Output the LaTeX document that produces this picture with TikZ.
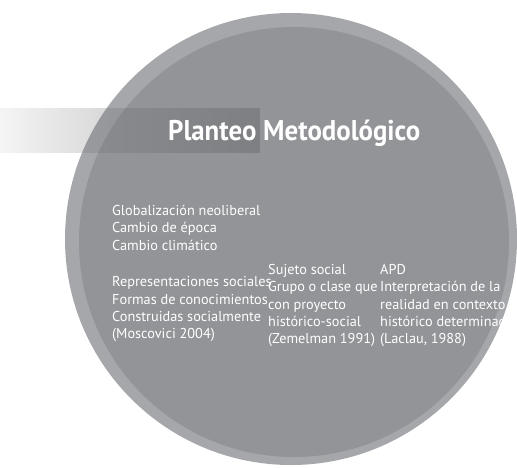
\documentclass[tikz,border=0pt]{standalone}
\usepackage{fontspec}
\setmainfont{PT Sans}
\usetikzlibrary{fadings}
\definecolor{ringgray}{HTML}{A6A7AB}
\definecolor{discgray}{HTML}{939498}
\definecolor{bandgray}{HTML}{6E6F73}
\tikzfading[name=bandfade, left color=transparent!93, right color=transparent!45]
\begin{document}
\begin{tikzpicture}[x=1pt, y=-1pt,
  body/.style={text=white, font=\fontsize{14.3}{17.2}\selectfont,
    align=left, inner sep=0pt, anchor=base west},
  heading/.style={text=white, font=\fontsize{28.5}{30}\selectfont\bfseries,
    inner sep=0pt, anchor=base west}]
\useasboundingbox (0,0) rectangle (517,467);
% outer ring and inner disc
\fill[ringgray] (291,239) circle[radius=226pt];
\fill[discgray] (294,242) circle[radius=215pt];
% title band fading in from the left
\fill[bandgray, path fading=bandfade] (0,108) rectangle (260,153);
\node[heading] (title) at (168,140) {\resizebox{252pt}{\height}{Planteo Metodológico}};
% text blocks, each placed at the baseline of its last line
\node[body] (context) at (112,250) {Globalización neoliberal\\Cambio de época\\Cambio climático};
\node[body] (repr) at (112,338.5) {Representaciones sociales\\Formas de conocimientos\\Construidas socialmente\\(Moscovici 2004)};
\node[body] (subject) at (268,343.5) {Sujeto social\\Grupo o clase que\\con proyecto\\histórico-social\\(Zemelman 1991)};
\node[body] (apd) at (380,343.5) {APD\\Interpretación de la\\realidad en contexto\\histórico determinad\\(Laclau, 1988)};
\end{tikzpicture}
\end{document}
